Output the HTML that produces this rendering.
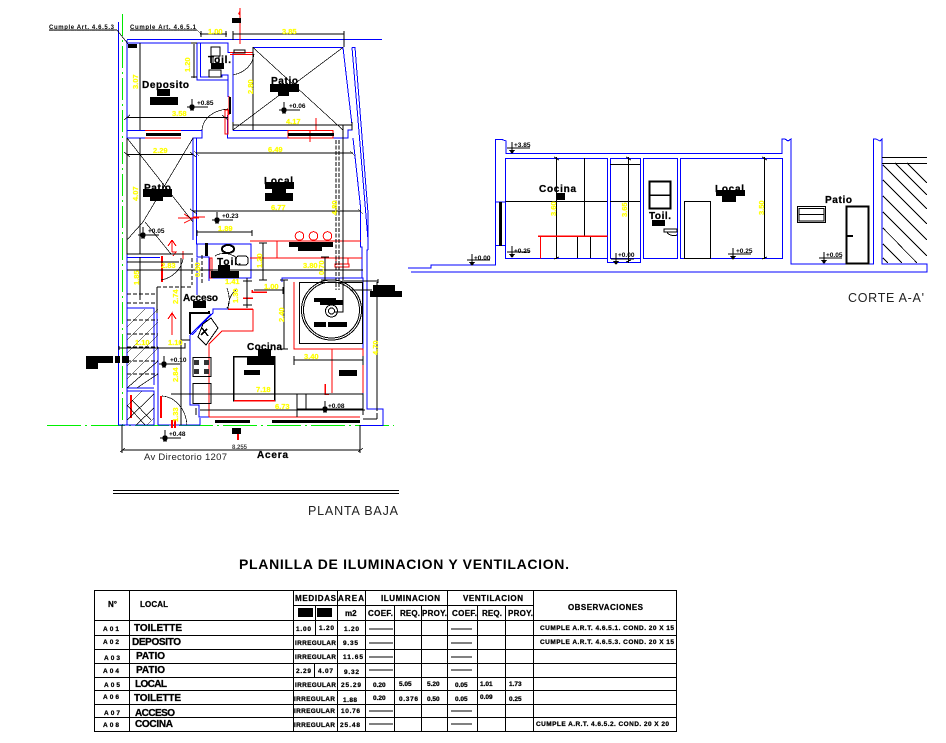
<!DOCTYPE html>
<html><head><meta charset="utf-8"><style>
html,body{margin:0;padding:0;background:#fff;width:946px;height:743px;overflow:hidden}
svg{display:block;font-family:"Liberation Sans",sans-serif}
.b{fill:none;stroke:#0000ff;stroke-width:1}
.k{fill:none;stroke:#000;stroke-width:1}
.r{fill:none;stroke:#ff0000;stroke-width:1}
.t{fill:none;stroke:#000;stroke-width:.7}
.y{fill:#ffff00;stroke:#ffff00;stroke-width:.2;font-size:7.5px;font-weight:bold}
.l{fill:#000;stroke:#000;stroke-width:.25;font-size:10px;font-weight:bold}
.s{fill:#000;font-size:6.5px;font-weight:bold}
.h{fill:#000;stroke:#000;stroke-width:.25;font-size:8px;font-weight:bold}
.n{fill:#000;stroke:#000;stroke-width:.3;font-size:10px;font-weight:bold}
.o{fill:#000;stroke:#000;stroke-width:.25;font-size:6.5px;font-weight:bold}
</style></head><body>
<svg width="946" height="743" viewBox="0 0 946 743" xmlns="http://www.w3.org/2000/svg" shape-rendering="crispEdges">
<defs>
<g id="lv"><path d="M-5 0H0V-8M-5 0H5M-2 3H2" stroke="#000" stroke-width=".7" fill="none"/><circle cx="0" cy="0" r="2.8" fill="#000"/><path d="M-3 0H16" stroke="#000" stroke-width=".8"/></g>
<g id="ls"><path d="M0 -7V4M-5 -1H18" stroke="#000" stroke-width="1" fill="none"/><path d="M-3 1H3L0 5Z" fill="#000"/></g>
</defs>

<!-- green axes -->
<path d="M122.500 14V426" stroke="#00e800" stroke-width="1.300" stroke-dasharray="22 4 2 4" fill="none"/>
<path d="M47 425.500H394" stroke="#00f000" stroke-width="1" stroke-dasharray="34 4 2 4" fill="none"/>

<!-- plan walls -->
<g class="b">
<path d="M118.500 22V425H127V40"/>
<path d="M127 39.500H382M127 43H228V52.500H233V130.500M253 47.500H343L352 125V130H348V138H333M288 138H227.500V115M228 97V75H222V77H200.500V43M197 43V80H228V97"/>
<path d="M127 130.500H145M181 130.500H202V138H193V240M145 138H127M233 130.500H288M196.500 138V240"/>
<path d="M352 47.500H355L368 213V250M352 47.500L368 240"/>
<path d="M353 138L360.500 207V247H362V278M368 250H367V409H383V425.500H360"/>
<path d="M363 282V395"/>
<path d="M196.500 240V244H251V278H211"/>
<path d="M197 244V257H209V281"/>
<path d="M282 282V278H363V282"/>
<path d="M192 335L213 313V309H253"/>
<path d="M190 335V405H199V417H209M190 335L211 314"/>
<path d="M127 308H154V385M127 388H154M127 391H154V425H127"/>
<path d="M158 347V425M157 313V347"/>
<path d="M127 257.500H160M197 258V295"/>
<path d="M209 417H360M200 418V425"/>
<path d="M158 425H200M127 425H154"/>
</g>

<!-- red walls -->
<g class="r">
<path d="M145 130.500H181M145 138H181M288 130.500H333V138H288Z"/>
<path d="M230 52.500H253V54.500H230"/>
<path d="M229 96V115M225 110V134H228V110Z"/>
<path d="M253 309V331H222L209 344V417"/>
<path d="M294 282V349H363V393M332 349V393"/>
<path d="M210 258V278H212V258Z"/>
<path d="M209 417H360"/>
<path d="M250 241H361M250 258H362M277 241V258"/>
<path d="M336 258H348V264H336ZM335 264H349V267H335Z"/>
<path d="M172 240V252M183 259V251M172 252H176L173 256"/>
</g>
<g fill="none" stroke="#ff0000">
<circle cx="299.500" cy="236" r="4.300"/><circle cx="313.500" cy="236" r="4.300"/><circle cx="327.500" cy="236" r="4.300"/>
<path d="M172 325V313L168 319M172 313L176 319M172 325V335M172 240L168 246M172 240L176 246" />
<path d="M199 218H178M184 214L192 219L184 223M193 217H205"/>
<path d="M316 118V131M310 130V142"/>
</g>
<path d="M240 8V44" stroke="#f00" stroke-width="1.200"/>
<path d="M240 10L238 14L240 16Z" fill="#f00"/>
<path d="M162 256V282" stroke="#f00" stroke-width="2"/>
<path d="M131 395V418M161 396V418" stroke="#f00" stroke-width="2"/>
<path d="M252 290V292H267M243 298H253M228 309H253" stroke="#f00" stroke-width="1.500" fill="none"/>
<path d="M325 384V394H329" stroke="#f00" stroke-width="1.500" fill="none"/>
<path d="M172 420V428M175 420V428M238 428V440" stroke="#f00" stroke-width="2"/>
<rect x="205" y="243" width="3" height="13" fill="#000"/>

<!-- black thin plan details -->
<g class="t">
<path d="M127 138L193 222M193 138L143 222M143 222L127 240M145 222L171 254"/>
<path d="M253 47.500L343 130M343 47.500L233 130"/>
<path d="M127 138V254H193"/>
<path d="M140 43V130M140 138V254"/>
<path d="M127 117.500H228M130 115L124 120M222 115L228 120"/>
<path d="M200 34H227M201 31V37M226 31V37M233 34H344M233 31V40M344 31V47"/>
<path d="M194 44V78M191 43H197M191 77H197"/>
<path d="M127 154.500H193M124 152L130 157M190 152L196 157M196 153H353M194 151L199 156M350 151L355 156"/>
<path d="M193 211H361M190 209L197 214M358 209L363 214"/>
<path d="M233 125H352M233 122V130M352 122V130"/>
<path d="M253 47V130"/>
<path d="M197 232H252M197 230V236M252 230V236"/>
<path d="M336 140V290M339 140V290" stroke-dasharray="4 1.500"/>
<path d="M343 125V282"/>
<path d="M250 270H363M127 270H250M181 258V340"/>
<path d="M140 257V300"/>
<path d="M202 255V285M192 258V285" stroke-dasharray="4 2"/>
<path d="M127 262H179"/>
<path d="M119 348H157M119 346V350M154 348H185V343M181 340H190"/>
<path d="M181 340V425"/>
<path d="M171 394H360"/>
<path d="M200 410H365M196 408V415M363 408V415"/>
<path d="M247 278V308M243 281H252M243 305H252"/>
<path d="M284 280V349M280 280H288M280 349H288"/>
<path d="M254 290H283M283 287V294"/>
<path d="M294 360H363M294 356V365M363 356V365"/>
<path d="M263 243V280M259 243H267M259 280H267"/>
<path d="M325 257V280M321 257H329M321 280H329"/>
<path d="M122 450H360M122 425V453M360 425V453M120 452L125 448M358 452L363 448"/>
<path d="M377 282V411M363 419H377M377 413V419"/>
<path d="M363 281H378M378 279V283M350 290H372"/>
<path d="M306 394V409M297 394V417"/>
</g>
<!-- door arcs -->
<g class="t">
<path d="M233 75C247 72 253 63 254 54"/>
<path d="M202 130C203 118 214 110 228 109"/>
<path d="M161 280C172 278 181 270 183 259"/>
<path d="M162 396C176 397 186 410 187 425"/>
<path d="M132 400L151 420M127 405L145 425"/>
<path d="M227 288C231 300 229 306 227 308"/>
<path d="M237 289C231 293 228 301 228 309"/>
<path d="M215 256C221 252 231 253 237 258"/>
<path d="M157 313V287"/>
<path d="M127 303H157" stroke-dasharray="4 2"/>
<path d="M127 294H157" stroke-dasharray="4 2"/>
<path d="M157 287H192" stroke-dasharray="4 2"/>
</g>
<!-- stair hatch -->
<g class="t">
<path d="M127 327L145 309M127 340L158 309M127 353L158 322M127 366L158 335M127 379L158 348M127 388L158 361M137 388L158 374"/>
<path d="M127 320H158M127 334H158M127 347H158M127 361H158M127 374H158" stroke-width="1" stroke-dasharray="4 2"/>
<path d="M127 406L142 391M127 420L154 394M136 425L154 408M147 425L154 418"/>
</g>
<!-- circle feature -->
<g fill="none" stroke="#000">
<rect x="299.500" y="282.500" width="63" height="61"/>
<circle cx="331.500" cy="310" r="30"/><circle cx="331.500" cy="310" r="28"/>
<circle cx="331.500" cy="311" r="6"/><circle cx="331.500" cy="311" r="3"/>
<path d="M343 283V312H335"/>
<path d="M344 281H378"/>
</g>
<!-- kitchen -->
<path d="M190 313H209V311M190 312V334" stroke="#000" stroke-width="2" fill="none"/>
<path d="M203 324L211 318L218 328L206 345L198 337Z" fill="none" stroke="#000"/>
<path d="M202 328L208 336M207 329L201 335" stroke="#000" stroke-width="1.500"/>
<rect x="193" y="357.500" width="18" height="19" fill="none" stroke="#000"/>
<rect x="193" y="383.500" width="18" height="20" fill="none" stroke="#000"/>
<path d="M194 360h5v5h-5zM204 360h5v5h-5zM194 369h5v5h-5zM204 369h5v5h-5z" fill="#333"/>
<rect x="233.500" y="356.500" width="41" height="44" fill="none" stroke="#000" stroke-width="1.500"/>
<path d="M234 400.500H275" stroke="#f00" stroke-width="1.500"/>
<rect x="297" y="394" width="66" height="15" fill="none" stroke="#000"/>
<!-- toilet fixtures -->
<rect x="211" y="47" width="9" height="9" fill="none" stroke="#000"/>
<path d="M213 56H219V65H213Z" fill="none" stroke="#000"/>
<rect x="209" y="70" width="12" height="7" fill="none" stroke="#000"/>
<ellipse cx="228" cy="249" rx="6" ry="4" fill="none" stroke="#000" stroke-width="2"/>
<rect x="236" y="256" width="12" height="9" rx="3" fill="none" stroke="#000"/>
<rect x="234" y="50" width="11" height="3" fill="none" stroke="#000"/>
<!-- windows -->
<rect x="146" y="133" width="35" height="3" fill="#000"/>
<rect x="288" y="133" width="46" height="3" fill="#000"/>
<rect x="215" y="420" width="35" height="3" fill="#000"/>
<rect x="272" y="420" width="88" height="3" fill="#000"/>
<rect x="229" y="97" width="2" height="17" fill="#000"/>

<!-- redactions -->
<g fill="#000">
<path d="M232 18h9v5h-9zM211 63h13v6h-13zM157 89h13v7h-13zM150 97h28v8h-28zM270 84h29v8h-29zM278 92h11v4h-11zM265 182h29v7h-29zM272 189h14v4h-14zM265 193h28v8h-28zM143 189h29v8h-29zM150 197h13v4h-13zM128 44h9v4h-9z"/>
<path d="M289 242h44v5h-44zM298 247h24v4h-24zM218 265h12v6h-12zM211 271h28v7h-28zM193 301h13v7h-13zM314 298h22v4h-22zM320 300h23v5h-23zM314 322h12v5h-12zM328 322h19v5h-19zM373 285h22v6h-22zM370 291h32v6h-32zM258 349h13v7h-13zM247 357h28v8h-28zM244 370h16v5h-16zM339 370h18v6h-18zM86 356h27v7h-27zM86 363h12v6h-12zM115 356h5v7h-5zM122 356h7v7h-7zM232 428h9v6h-9z"/>
<path d="M556 193h9v7h-9zM652 220h13v6h-13zM716 190h29v6h-29zM722 196h14v6h-14z"/>
</g>

<!-- plan labels -->
<g>
<text x="142" y="88" class="l" textLength="47">Deposito</text>
<text x="208" y="63" class="l" textLength="23">Toil.</text>
<text x="271" y="84" class="l" textLength="27">Patio</text>
<text x="264" y="184" class="l" textLength="29">Local</text>
<text x="144" y="191" class="l" textLength="27">Patio</text>
<text x="217" y="265" class="l" textLength="24">Toil.</text>
<text x="183" y="301" class="l" textLength="35">Acceso</text>
<text x="247" y="350" class="l" textLength="35">Cocina</text>
<text x="257" y="458" class="l" textLength="31">Acera</text>
<text x="144" y="460" style="font-size:9.500px;fill:#222" textLength="83">Av Directorio  1207</text>
<text x="49" y="29" style="font-size:6px;font-weight:bold;fill:#000" textLength="65" text-decoration="underline">Cumple Art. 4.6.5.3</text>
<text x="130" y="29" style="font-size:6px;font-weight:bold;fill:#000" textLength="66" text-decoration="underline">Cumple Art. 4.6.5.1</text>
<path d="M49 30H117L128 44M130 30H197L201 34" class="t"/>

<text x="208" y="34" class="y">1.00</text><text x="282" y="34" class="y">3.85</text>
<text x="172" y="116" class="y">3.58</text><text x="286" y="124" class="y">4.17</text>
<text x="153" y="153" class="y">2.29</text><text x="268" y="152" class="y">6.49</text>
<text x="271" y="210" class="y">6.77</text><text x="218" y="231" class="y">1.89</text>
<text x="303" y="268" class="y">3.80</text><text x="264" y="289" class="y">1.00</text>
<text x="161" y="268" class="y">2.83</text><text x="225" y="284" class="y">1.41</text>
<text x="304" y="359" class="y">3.40</text><text x="256" y="392" class="y">7.18</text>
<text x="275" y="409" class="y">6.73</text><text x="135" y="345" class="y">1.10</text>
<text x="168" y="345" class="y">1.10</text>
<text transform="translate(138,89) rotate(-90)" class="y">3.07</text>
<text transform="translate(190,72) rotate(-90)" class="y">1.20</text>
<text transform="translate(253,94) rotate(-90)" class="y">2.80</text>
<text transform="translate(138,201) rotate(-90)" class="y">4.07</text>
<text transform="translate(337,215) rotate(-90)" class="y">4.80</text>
<text transform="translate(139,285) rotate(-90)" class="y">1.85</text>
<text transform="translate(178,304) rotate(-90)" class="y">2.74</text>
<text transform="translate(200,277) rotate(-90)" class="y">0.60</text>
<text transform="translate(262,268) rotate(-90)" class="y">1.20</text>
<text transform="translate(324,275) rotate(-90)" class="y">0.70</text>
<text transform="translate(238,303) rotate(-90)" class="y">1.30</text>
<text transform="translate(284,322) rotate(-90)" class="y">2.40</text>
<text transform="translate(378,355) rotate(-90)" class="y">4.70</text>
<text transform="translate(178,382) rotate(-90)" class="y">2.84</text>
<text transform="translate(178,422) rotate(-90)" class="y">1.33</text>

<use href="#lv" x="192" y="107"/><text x="197" y="105" class="s">+0.85</text>
<use href="#lv" x="284" y="110"/><text x="289" y="108" class="s">+0.06</text>
<use href="#lv" x="217" y="220"/><text x="222" y="218" class="s">+0.23</text>
<use href="#lv" x="143" y="235"/><text x="148" y="233" class="s">+0.05</text>
<use href="#lv" x="164" y="364"/><text x="170" y="362" class="s">+0.10</text>
<use href="#lv" x="165" y="438"/><text x="169" y="436" class="s">+0.48</text>
<use href="#lv" x="325" y="409"/><text x="328" y="408" class="s">+0.08</text>
<text x="232" y="449" style="font-size:6px;fill:#444;font-weight:bold">8.255</text>
</g>

<!-- section -->
<g class="b">
<path d="M408 268H431V265H495.500V139.500H502L506 141V153.500H782V139H785L788 141L791 139V264H873.500V139H876L880 141L882 139V264H927V272H411"/>
<path d="M496 202H505.500M496 245.500H505.500"/>
<rect x="505.500" y="158.500" width="102" height="100"/>
<rect x="610.500" y="158.500" width="30" height="100"/>
<path d="M607.500 258.500V262.500H640.500V258"/>
<rect x="643.500" y="158.500" width="34" height="100"/>
<rect x="680.500" y="158.500" width="102" height="100"/>
</g>
<g fill="none" stroke="#000">
<path d="M584.500 158V236M505.500 201.500H607M610 201.500H640M610 164.500H640"/>
<path d="M577.500 236V258M590.500 236V258"/>
<path d="M556.500 157V259M554 157L559 160M554 259L559 257M628.500 157V263M626 157L631 160M626 262L631 260M764.500 157V259M762 157L767 160M762 259L767 257"/>
<rect x="684.500" y="201.500" width="26" height="57"/>
<path d="M664 229H677V232H664ZM667 232C669 236 675 236 677 235"/>
<rect x="797.500" y="206.500" width="28" height="16"/>
<path d="M799 208.500H824V221H799ZM799 214.500H824"/>
<path d="M882 157.500H927M882 163.500H927"/>
</g>
<rect x="499" y="202" width="3" height="44" fill="#000"/>
<path d="M538 236H607.500" stroke="#f00" stroke-width="1.500"/>
<path d="M540.500 236V258.500" stroke="#f00"/>
<rect x="649.500" y="181.500" width="21" height="27" fill="none" stroke="#000" stroke-width="1.800"/>
<path d="M650 195H670" stroke="#000" stroke-width="1.500"/>
<rect x="846.500" y="206.500" width="22" height="57" fill="none" stroke="#000" stroke-width="2"/>
<path d="M847 236H853" stroke="#000" stroke-width="2"/>
<!-- hatch -->
<g stroke="#000" stroke-width=".8" fill="none">
<path d="M883 165L927 209M895 163L927 195M907 163L927 183M883 180L927 224M883 196L927 240M883 212L927 256M883 228L917 263M883 244L902 263M883 258L888 263"/>
</g>
<text x="539" y="192" class="l" textLength="37">Cocina</text>
<text x="649" y="219" class="l" textLength="22">Toil.</text>
<text x="715" y="192" class="l" textLength="29">Local</text>
<text x="825" y="203" class="l" textLength="27">Patio</text>
<text transform="translate(556,216) rotate(-90)" class="y">3.60</text>
<text transform="translate(627,217) rotate(-90)" class="y">3.65</text>
<text transform="translate(764,215) rotate(-90)" class="y">3.50</text>
<use href="#ls" x="512" y="149"/><text x="514" y="147" class="s">+3.85</text>
<use href="#ls" x="512" y="253"/><text x="514" y="253" class="s">+0.25</text>
<use href="#ls" x="472" y="261"/><text x="474" y="260" class="s">+0.00</text>
<use href="#ls" x="616" y="260"/><text x="618" y="257" class="s">+0.00</text>
<use href="#ls" x="733" y="255"/><text x="736" y="253" class="s">+0.25</text>
<use href="#ls" x="824" y="259"/><text x="826" y="257" class="s">+0.05</text>
<text x="848" y="302" style="font-size:12.500px;fill:#222" textLength="76">CORTE A-A'</text>

<!-- plan title -->
<path d="M113 490.500H399M113 493.500H399" stroke="#000" fill="none"/>
<text x="308" y="515" style="font-size:12.500px;fill:#222" textLength="90">PLANTA BAJA</text>
<text x="239" y="569" style="font-size:14px;font-weight:bold;fill:#000" textLength="330">PLANILLA DE ILUMINACION Y VENTILACION.</text>

<!-- table -->
<g fill="none" stroke="#000" stroke-width="1">
<rect x="94.500" y="590.500" width="582" height="141"/>
<path d="M129.500 590V731M293.500 590V731M337.500 590V731M365.500 590V731M394.500 605V731M421.500 605V731M447.500 590V731M477.500 605V731M505.500 605V731M533.500 590V731"/>
<path d="M293 605.500H533M94 620.500H677M94 635.500H677M94 649.500H677M94 663.500H677M94 677.500H677M94 690.500H677M94 704.500H677M94 717.500H677"/>
<path d="M315.500 605V635M314.500 663V677"/>
<path d="M369 629H393M369 643H393M369 657H393M369 670H393M369 711H393M369 724H393M451 629H472M451 643H472M451 657H472M451 670H472M451 711H472M451 724H472"/>
</g>
<rect x="298" y="608" width="15" height="9" fill="#000"/><rect x="317" y="608" width="15" height="9" fill="#000"/>
<g>
<text x="108" y="607" class="h">N°</text><text x="140" y="607" class="h" textLength="28">LOCAL</text>
<text x="295" y="601" class="h" textLength="41">MEDIDAS</text><text x="338" y="601" class="h" textLength="26">AREA</text>
<text x="345" y="616" class="h">m2</text><text x="368" y="616" class="h" textLength="25">COEF.</text>
<text x="400" y="616" class="h" textLength="20">REQ.</text><text x="422" y="616" class="h" textLength="25">PROY.</text>
<text x="452" y="616" class="h" textLength="25">COEF.</text><text x="482" y="616" class="h" textLength="20">REQ.</text><text x="508" y="616" class="h" textLength="25">PROY.</text>
<text x="381" y="601" class="h" textLength="59">ILUMINACION</text><text x="463" y="601" class="h" textLength="60">VENTILACION</text>
<text x="568" y="610" class="h" textLength="75">OBSERVACIONES</text>

<text x="103" y="631" class="o" textLength="16">A01</text><text x="103" y="644" class="o" textLength="16">A02</text>
<text x="104" y="660" class="o" textLength="16">A03</text><text x="103" y="673" class="o" textLength="16">A04</text>
<text x="104" y="687" class="o" textLength="16">A05</text><text x="103" y="699" class="o" textLength="16">A06</text>
<text x="104" y="715" class="o" textLength="16">A07</text><text x="103" y="727" class="o" textLength="16">A08</text>

<text x="134" y="631" class="n" textLength="48">TOILETTE</text>
<text x="132" y="645" class="n" textLength="49">DEPOSITO</text>
<text x="136" y="659" class="n" textLength="29">PATIO</text>
<text x="136" y="673" class="n" textLength="29">PATIO</text>
<text x="135" y="687" class="n" textLength="32">LOCAL</text>
<text x="134" y="701" class="n" textLength="47">TOILETTE</text>
<text x="135" y="716" class="n" textLength="40">ACCESO</text>
<text x="135" y="727" class="n" textLength="38">COCINA</text>

<text x="296" y="631" class="o" textLength="15">1.00</text><text x="319" y="630" class="o" textLength="15">1.20</text><text x="344" y="631" class="o" textLength="15">1.20</text>
<text x="295" y="645" class="o" textLength="41">IRREGULAR</text><text x="343" y="645" class="o" textLength="15">9.35</text>
<text x="295" y="659" class="o" textLength="41">IRREGULAR</text><text x="343" y="659" class="o" textLength="20">11.65</text>
<text x="296" y="673" class="o" textLength="15">2.29</text><text x="318" y="673" class="o" textLength="15">4.07</text><text x="344" y="674" class="o" textLength="15">9.32</text>
<text x="295" y="687" class="o" textLength="41">IRREGULAR</text><text x="341" y="687" class="o" textLength="20">25.29</text>
<text x="294" y="701" class="o" textLength="41">IRREGULAR</text><text x="343" y="702" class="o" textLength="14">1.88</text>
<text x="294" y="713" class="o" textLength="41">IRREGULAR</text><text x="341" y="713" class="o" textLength="19">10.76</text>
<text x="294" y="727" class="o" textLength="41">IRREGULAR</text><text x="340" y="727" class="o" textLength="20">25.48</text>

<text x="373" y="687" class="o">0.20</text><text x="373" y="700" class="o">0.20</text>
<text x="399" y="686" class="o">5.05</text><text x="399" y="701" class="o" textLength="19">0.376</text>
<text x="427" y="686" class="o">5.20</text><text x="427" y="701" class="o">0.50</text>
<text x="455" y="687" class="o">0.05</text><text x="455" y="701" class="o">0.05</text>
<text x="480" y="686" class="o">1.01</text><text x="480" y="699" class="o">0.09</text>
<text x="509" y="686" class="o">1.73</text><text x="509" y="701" class="o">0.25</text>
<text x="540" y="630" class="o" textLength="134">CUMPLE A.R.T. 4.6.5.1. COND. 20 X 15</text>
<text x="540" y="644" class="o" textLength="134">CUMPLE A.R.T. 4.6.5.3. COND. 20 X 15</text>
<text x="536" y="726" class="o" textLength="133">CUMPLE A.R.T. 4.6.5.2. COND. 20 X 20</text>
</g>
</svg>
</body></html>
